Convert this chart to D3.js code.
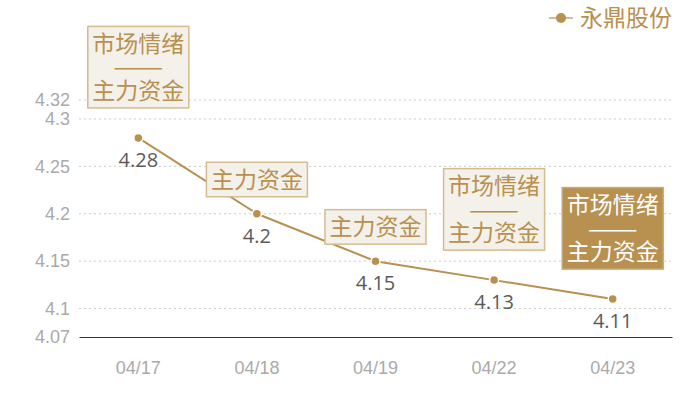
<!DOCTYPE html>
<html>
<head>
<meta charset="utf-8">
<script src="https://cdn.jsdelivr.net/npm/d3@7"></script>
<style>
  body { margin: 0; background: #fff; }
  svg { display: block; font-family: "Open Sans", "Noto Sans CJK SC", sans-serif; }
</style>
</head>
<body>
<div id="wrapper"></div>
<script>
// data
const dates = ["04/17", "04/18", "04/19", "04/22", "04/23"];
const prices = [4.28, 4.2, 4.15, 4.13, 4.11];
const yTicks = [4.07, 4.1, 4.15, 4.2, 4.25, 4.3, 4.32];
const seriesName = "永鼎股份";
const notes = [
  ["市场情绪", "——", "主力资金"],
  ["主力资金"],
  ["主力资金"],
  ["市场情绪", "——", "主力资金"],
  ["市场情绪", "——", "主力资金"],
];
const noteFilled = [false, false, false, false, true];

function drawChart() {
  const gold = "#b8904f";

  let dimensions = {
    width: 700,
    height: 400,
    margin: { top: 100, bottom: 63, left: 79, right: 28 },
  };
  dimensions.boundedWidth =
    dimensions.width - dimensions.margin.left - dimensions.margin.right;
  dimensions.boundedHeight =
    dimensions.height - dimensions.margin.top - dimensions.margin.bottom;

  const wrapper = d3
    .select("#wrapper")
    .append("svg")
    .attr("width", dimensions.width)
    .attr("height", dimensions.height);

  const bounds = wrapper
    .append("g")
    .attr("transform", `translate(${dimensions.margin.left},${dimensions.margin.top})`);

  // scales
  const xScale = d3
    .scaleBand()
    .domain(dates)
    .range([0, dimensions.boundedWidth]);
  const xCenter = (d) => xScale(d) + xScale.bandwidth() / 2;

  const yScale = d3
    .scaleLinear()
    .domain([4.07, 4.32])
    .range([dimensions.boundedHeight, 0]);

  // grid lines
  bounds
    .append("g")
    .selectAll("line")
    .data(yTicks.filter((t) => t !== 4.07))
    .join("line")
    .attr("x1", 0)
    .attr("x2", dimensions.boundedWidth)
    .attr("y1", (d) => yScale(d))
    .attr("y2", (d) => yScale(d))
    .attr("stroke", "#cccccc")
    .attr("stroke-dasharray", "2,3");

  // y axis labels
  const yAxis = bounds
    .append("g")
    .call(d3.axisLeft(yScale).tickValues(yTicks).tickSize(0).tickPadding(9).tickFormat((d) => d));
  yAxis.select(".domain").remove();
  yAxis
    .selectAll("text")
    .attr("fill", "#aaaaaa")
    .style("font-size", "18px");

  // x axis
  const xAxis = bounds
    .append("g")
    .attr("transform", `translate(0,${dimensions.boundedHeight})`)
    .call(d3.axisBottom(xScale).tickSize(0).tickPadding(24));
  xAxis.select(".domain").attr("stroke", "#333333");
  xAxis
    .selectAll("text")
    .attr("fill", "#aaaaaa")
    .style("font-size", "18px");

  // line
  const lineGenerator = d3
    .line()
    .x((d, i) => xCenter(dates[i]))
    .y((d) => yScale(d));

  bounds
    .append("path")
    .datum(prices)
    .attr("d", lineGenerator)
    .attr("fill", "none")
    .attr("stroke", gold)
    .attr("stroke-width", 2);

  bounds
    .append("g")
    .selectAll("circle")
    .data(prices)
    .join("circle")
    .attr("cx", (d, i) => xCenter(dates[i]))
    .attr("cy", (d) => yScale(d))
    .attr("r", 4.5)
    .attr("fill", gold)
    .attr("stroke", "#fff")
    .attr("stroke-width", 1.5);

  // value labels
  bounds
    .append("g")
    .selectAll("text")
    .data(prices)
    .join("text")
    .attr("x", (d, i) => xCenter(dates[i]))
    .attr("y", (d) => yScale(d) + 29)
    .attr("text-anchor", "middle")
    .attr("fill", "#5a5a5a")
    .style("font-size", "20px")
    .text((d) => d);

  // annotation boxes
  const boxWidth = 101;
  const lineHeight = 23.5;
  const noteGroups = bounds
    .append("g")
    .selectAll("g")
    .data(notes)
    .join("g")
    .attr("transform", (d, i) => {
      const h = d.length * lineHeight + 11;
      const gap = d.length > 1 ? 30 : 17;
      return `translate(${xCenter(dates[i]) - boxWidth / 2},${yScale(prices[i]) - gap - h})`;
    });

  noteGroups
    .append("rect")
    .attr("width", boxWidth)
    .attr("height", (d) => d.length * lineHeight + 11)
    .attr("fill", (d, i) => (noteFilled[i] ? gold : "#f4f0ea"))
    .attr("stroke", (d, i) => (noteFilled[i] ? "#c9a872" : "#d6bb8e"))
    .attr("stroke-width", 1.5);

  noteGroups.each(function (lines, i) {
    d3.select(this)
      .selectAll("text")
      .data(lines)
      .join("text")
      .attr("x", boxWidth / 2)
      .attr("y", (d, j) => 5.5 + lineHeight * (j + 0.5))
      .attr("dy", "0.36em")
      .attr("text-anchor", "middle")
      .attr("fill", noteFilled[i] ? "#ffffff" : gold)
      .style("font-family", "'Noto Sans CJK SC', sans-serif")
      .style("font-size", "23px")
      .each(function (d) {
        // the dash row is stretched to the width seen in the picture
        if (d === "——") {
          d3.select(this)
            .attr("textLength", 50)
            .attr("lengthAdjust", "spacingAndGlyphs");
        }
      })
      .text((d) => d);
  });

  // legend
  const legend = wrapper.append("g").attr("transform", "translate(549,18)");
  legend
    .append("line")
    .attr("x1", 0)
    .attr("x2", 24)
    .attr("stroke", "#d4bb92")
    .attr("stroke-width", 2);
  legend
    .append("circle")
    .attr("cx", 12)
    .attr("r", 5)
    .attr("fill", gold);
  legend
    .append("text")
    .attr("x", 31)
    .attr("dy", "0.36em")
    .attr("fill", gold)
    .style("font-family", "'Noto Sans CJK SC', sans-serif")
    .style("font-size", "23px")
    .text(seriesName);
}

drawChart();
</script>
</body>
</html>
